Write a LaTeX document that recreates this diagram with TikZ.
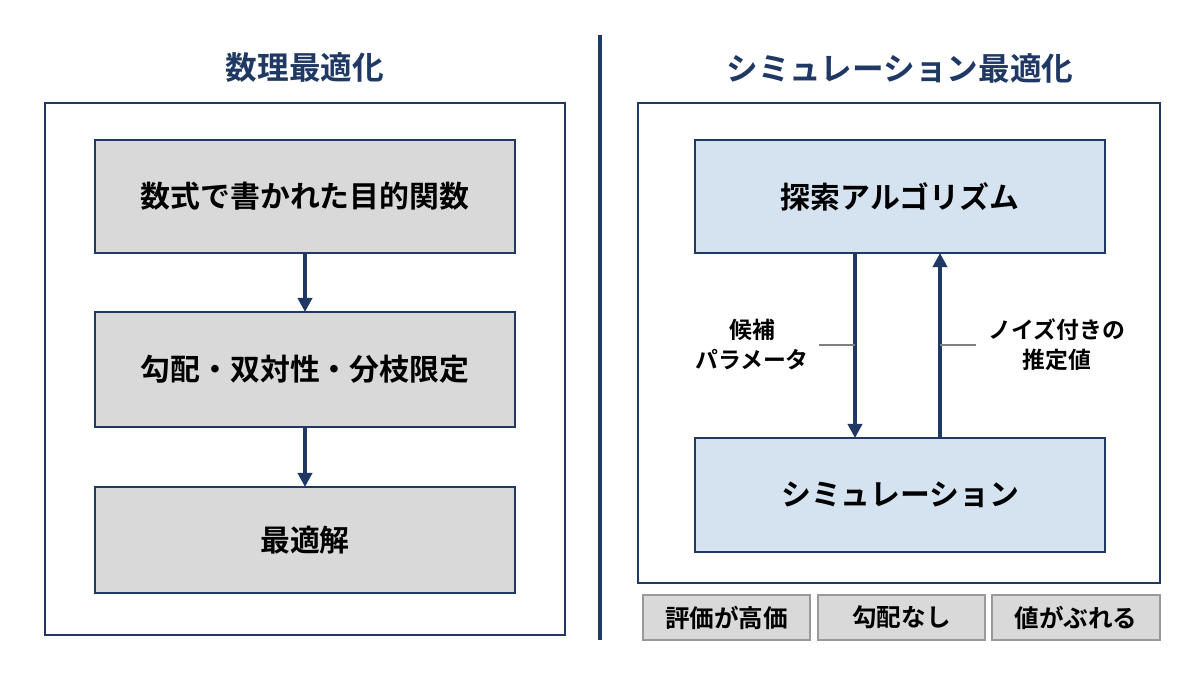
\documentclass[tikz,border=0pt]{standalone}
\usepackage{fontspec}
\setmainfont{Noto Sans CJK JP}[BoldFont={Noto Sans CJK JP Bold}]
\usetikzlibrary{arrows.meta}
\definecolor{navy}{HTML}{1F3864}
\definecolor{boxgray}{HTML}{D9D9D9}
\definecolor{boxblue}{HTML}{D5E3F1}
\tikzset{
  graybox/.style={draw=navy,line width=1.6pt,fill=boxgray,font=\bfseries\fontsize{17}{20}\selectfont},
  bluebox/.style={draw=navy,line width=1.6pt,fill=boxblue,font=\bfseries\fontsize{17}{20}\selectfont},
  tagbox/.style={draw=gray!80,line width=0.8pt,fill=boxgray,font=\bfseries\fontsize{14}{16}\selectfont},
  frame/.style={draw=navy,line width=0.8pt},
  flow/.style={-{Triangle[length=8pt,width=8pt]},draw=navy,line width=2pt},
  title/.style={text=navy,font=\bfseries\fontsize{18}{22}\selectfont},
  note/.style={font=\bfseries\fontsize{13}{17}\selectfont,align=center}
}
\begin{document}
\begin{tikzpicture}[x=0.02cm,y=-0.02cm]
  \useasboundingbox[fill=white] (0,0) rectangle (1200,675);
  % left
  \node[title] (lefttitle) at (305,68) {数理最適化};
  \draw[frame] (45,103) rectangle (565,635);
  \draw[graybox] (95,140) rectangle node (objective) {数式で書かれた目的関数} (515,253);
  \draw[graybox] (95,312) rectangle node (methods) {勾配・双対性・分枝限定} (515,427);
  \draw[graybox] (95,487) rectangle node (optimum) {最適解} (515,593);
  \coordinate (a1) at (305,253); \coordinate (a2) at (305,312);
  \coordinate (a3) at (305,427); \coordinate (a4) at (305,487);
  \draw[flow] (a1) -- (a2);
  \draw[flow] (a3) -- (a4);
  % divider
  \draw[navy,line width=2pt] (600,35) -- (600,640);
  % right
  \node[title] (righttitle) at (900,68) {シミュレーション最適化};
  \draw[frame] (638,103) rectangle (1160,583);
  \draw[bluebox] (695,140) rectangle node (search) {探索アルゴリズム} (1105,253);
  \draw[bluebox] (695,438) rectangle node (simulation) {シミュレーション} (1105,552);
  \coordinate (d1) at (855,253); \coordinate (d2) at (855,438);
  \coordinate (u1) at (940,438); \coordinate (u2) at (940,253);
  \draw[flow] (d1) -- (d2);
  \draw[flow] (u1) -- (u2);
  \node[note] (candidate) at (752,345) {候補\\パラメータ};
  \node[note] (noisy) at (1057,345) {ノイズ付きの\\推定値};
  \coordinate (dl) at (855,345); \coordinate (ul) at (940,345);
  \draw[gray,line width=0.6pt] (candidate.east) ++(4,0) -- (dl);
  \draw[gray,line width=0.6pt] (ul) -- ([xshift=-4]noisy.west);
  % tags
  \draw[tagbox] (643,595) rectangle node (costly) {評価が高価} (810,640);
  \draw[tagbox] (818,595) rectangle node (nograd) {勾配なし} (985,640);
  \draw[tagbox] (992,595) rectangle node (noisyval) {値がぶれる} (1160,640);
\end{tikzpicture}
\end{document}
